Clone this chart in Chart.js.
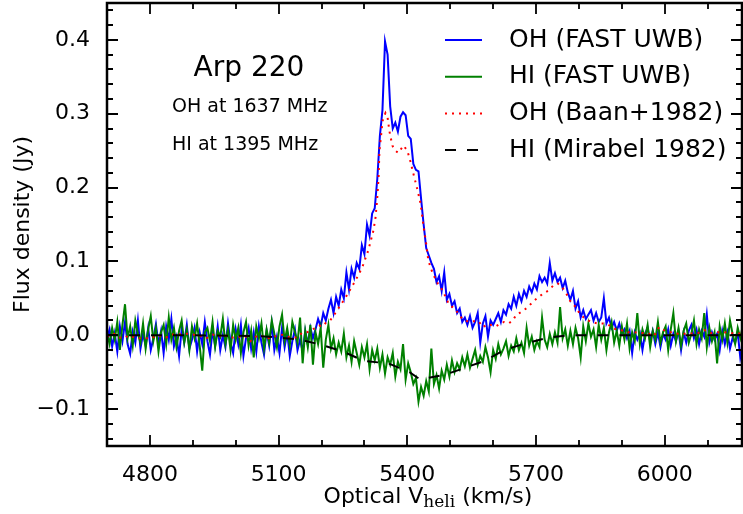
<!DOCTYPE html>
<html>
<head>
<meta charset="utf-8">
<script src="https://cdn.jsdelivr.net/npm/chart.js@4.4.1/dist/chart.umd.min.js"></script>
<style>
  html, body { margin: 0; padding: 0; background: #fff; }
  #spectrum { display: block; }
</style>
</head>
<body>
<canvas id="spectrum" width="743" height="514"></canvas>
<script>
// channel grid of the FAST UWB spectra (km/s)
const vStart = 4700;
const vStep = 6;

// OH (FAST UWB), Jy, one value per channel
const ohFast = [
  -0.004, 0.008, -0.015, 0.003, -0.022, 0.012, -0.008, 0.018, -0.012, -0.025, // 4700
  0.005, -0.010, 0.020, -0.018, 0.002, -0.014, 0.010, -0.020, -0.004, 0.015,   // 4760
  -0.012, 0.006, -0.024, 0.012, -0.006, 0.022, -0.015, -0.002, -0.028, 0.008,  // 4820
  -0.010, 0.014, -0.018, -0.006, 0.010, -0.022, 0.004, -0.012, 0.018, -0.008,  // 4880
  -0.026, 0.006, -0.014, 0.012, -0.020, 0.000, -0.016, 0.016, -0.010, -0.024,  // 4940
  0.008, -0.012, 0.014, -0.028, -0.004, 0.010, -0.018, 0.004, -0.022, 0.012,   // 5000
  -0.010, -0.026, 0.006, -0.014, 0.016, -0.020, -0.002, -0.024, 0.010, -0.016, // 5060
  0.004, -0.028, -0.008, 0.008, -0.020, -0.006, -0.022, 0.006, -0.012, 0.010,  // 5120
  -0.004, 0.008, 0.022, 0.012, 0.030, 0.020, 0.036, 0.048, 0.030, 0.052,       // 5180
  0.040, 0.062, 0.050, 0.085, 0.062, 0.090, 0.078, 0.098, 0.090, 0.122,        // 5240
  0.110, 0.150, 0.135, 0.165, 0.172, 0.212, 0.270, 0.305, 0.398, 0.380,        // 5300
  0.310, 0.280, 0.288, 0.276, 0.296, 0.302, 0.298, 0.270, 0.266, 0.232,        // 5360
  0.224, 0.222, 0.185, 0.150, 0.118, 0.108, 0.098, 0.090, 0.072, 0.080,        // 5420
  0.060, 0.085, 0.048, 0.056, 0.040, 0.046, 0.030, 0.036, 0.018, 0.024,        // 5480
  0.014, 0.026, 0.010, 0.018, 0.030, -0.010, 0.016, 0.026, -0.002, 0.020,      // 5540
  0.014, 0.022, 0.030, 0.018, 0.034, 0.028, 0.042, 0.036, 0.052, 0.040,        // 5600
  0.056, 0.046, 0.060, 0.052, 0.066, 0.058, 0.070, 0.062, 0.080, 0.072,        // 5660
  0.078, 0.070, 0.098, 0.074, 0.084, 0.072, 0.078, 0.064, 0.074, 0.058,        // 5720
  0.048, 0.060, 0.036, 0.046, 0.024, 0.034, 0.022, 0.028, 0.034, 0.020,        // 5780
  0.030, 0.018, 0.024, 0.050, 0.016, 0.024, 0.010, 0.018, 0.006, 0.016,        // 5840
  0.002, 0.008, -0.004, 0.006, -0.024, 0.004, -0.006, 0.003, -0.020, 0.002,    // 5900
  0.010, -0.008, 0.006, -0.012, 0.004, -0.016, 0.002, -0.006, 0.008, -0.014,   // 5960
  0.002, -0.008, 0.006, -0.020, 0.004, -0.010, 0.006, 0.014, -0.004, 0.008,    // 6020
  -0.012, 0.006, -0.002, 0.028, -0.010, 0.004, -0.006, 0.002, -0.020, 0.006,   // 6080
  -0.012, 0.004, -0.018, -0.004, -0.010, 0.004, -0.030, -0.012                 // 6140
];

// HI (FAST UWB), Jy, same channels
const hiFast = [
  0.004, -0.012, 0.010, -0.006, 0.018, -0.020, 0.014, 0.042, -0.004, 0.012,    // 4700
  -0.014, 0.020, 0.002, -0.010, 0.016, -0.018, 0.008, 0.026, -0.008, 0.010,    // 4760
  -0.022, 0.004, 0.014, -0.012, 0.024, -0.006, 0.010, -0.016, 0.006, 0.020,    // 4820
  -0.010, 0.008, -0.020, 0.012, -0.004, 0.016, -0.014, -0.048, 0.004, 0.010,   // 4880
  -0.008, 0.018, -0.016, 0.006, -0.002, 0.022, -0.012, 0.008, -0.020, 0.014,   // 4940
  -0.006, 0.010, -0.024, 0.004, 0.018, -0.014, 0.006, -0.030, 0.012, -0.004,   // 5000
  0.016, -0.018, 0.008, -0.010, 0.020, 0.002, -0.016, 0.012, 0.028, -0.008,    // 5060
  0.010, -0.014, 0.018, 0.004, -0.010, 0.024, -0.038, 0.006, -0.016, 0.014,    // 5120
  -0.040, 0.004, -0.012, 0.010, -0.044, -0.006, 0.014, -0.018, -0.004, -0.026, // 5180
  -0.010, -0.022, 0.002, -0.030, -0.014, -0.036, -0.008, -0.024, -0.040, -0.016, // 5240
  -0.030, -0.012, -0.046, -0.020, -0.034, -0.018, -0.044, -0.026, -0.052, -0.030, // 5300
  -0.040, -0.024, -0.056, -0.036, -0.046, -0.012, -0.060, -0.038, -0.050, -0.066, // 5360
  -0.058, -0.090, -0.070, -0.082, -0.062, -0.076, -0.018, -0.066, -0.054, -0.072, // 5420
  -0.048, -0.060, -0.040, -0.056, -0.034, -0.050, -0.038, -0.046, -0.030, -0.042, // 5480
  -0.026, -0.044, -0.032, -0.020, -0.040, -0.028, -0.036, -0.016, -0.030, -0.050, // 5540
  -0.020, -0.032, -0.012, -0.026, -0.018, -0.008, -0.028, -0.014, -0.022, -0.004, // 5600
  -0.020, -0.010, -0.024, 0.010, -0.014, -0.002, -0.020, -0.008, -0.016, 0.024,  // 5660
  -0.006, -0.016, 0.002, -0.012, 0.004, -0.010, 0.038, -0.004, 0.008, -0.014,   // 5720
  0.006, -0.012, 0.010, -0.004, -0.030, 0.012, -0.008, 0.016, -0.002, 0.008,    // 5780
  -0.016, 0.014, -0.006, 0.010, -0.020, 0.004, 0.018, -0.010, 0.006, -0.014,    // 5840
  0.012, -0.006, 0.016, -0.018, 0.004, -0.008, 0.030, -0.012, 0.008, -0.004,    // 5900
  0.014, -0.016, 0.006, -0.006, 0.018, -0.010, 0.004, 0.012, -0.020, 0.008,     // 5960
  0.030, -0.008, 0.010, -0.014, 0.006, 0.016, -0.010, 0.002, 0.020, -0.012,     // 6020
  0.008, -0.004, 0.030, -0.016, 0.010, -0.008, 0.004, -0.038, 0.012, -0.006,    // 6080
  0.016, -0.010, 0.020, 0.002, -0.012, 0.010, -0.004, 0.014                     // 6140
];

// OH (Baan+1982)
const baanVel = [4700, 4716, 4728, 4740, 4752, 4764, 4772, 4792, 4804, 4816, 4838, 4850, 4862, 4882, 4894,
  4922, 4932, 4946, 4960, 4972, 4984, 4996, 5006, 5016, 5028, 5034, 5044, 5056, 5066, 5078, 5088,
  5112, 5122, 5132, 5144, 5154, 5166, 5176, 5186, 5195, 5203, 5210, 5220, 5232, 5256, 5279, 5295,
  5309, 5321, 5326, 5330, 5333, 5335, 5340, 5342, 5349, 5354, 5358, 5365, 5372, 5379, 5391, 5400,
  5407, 5414, 5424, 5431, 5438, 5443, 5449, 5459, 5471, 5482, 5496, 5513, 5527, 5543, 5555, 5566,
  5576, 5587, 5594, 5606, 5618, 5625, 5636, 5646, 5653, 5664, 5681, 5692, 5704, 5718, 5730, 5741,
  5751, 5762, 5770, 5781, 5793, 5800, 5811, 5828, 5844, 5856, 5867, 5881, 5898, 5914, 5928, 5949,
  5963, 5975, 5987, 5998, 6019, 6031, 6054, 6078, 6092, 6108, 6124, 6138, 6155, 6182];
const baanFlux = [-0.002, 0.002, -0.003, -0.004, 0.000, -0.003, -0.004, -0.004, -0.004, 0.000, -0.003, 0.001, 0.001, 0.002, 0.002,
  -0.002, -0.004, 0.001, -0.002, 0.001, -0.003, -0.003, -0.003, 0.000, -0.003, -0.008, -0.003, 0.001, -0.003, -0.004, -0.002,
  0.001, -0.002, -0.003, -0.003, 0.003, 0.004, 0.007, 0.010, 0.013, 0.012, 0.017, 0.020, 0.030, 0.051, 0.074, 0.092,
  0.115, 0.142, 0.160, 0.187, 0.214, 0.250, 0.277, 0.290, 0.301, 0.295, 0.277, 0.257, 0.250, 0.247, 0.257, 0.250,
  0.236, 0.219, 0.196, 0.178, 0.146, 0.128, 0.101, 0.084, 0.070, 0.061, 0.043, 0.034, 0.023, 0.018, 0.019, 0.019,
  0.011, 0.015, 0.014, 0.012, 0.016, 0.018, 0.016, 0.020, 0.027, 0.031, 0.038, 0.045, 0.051, 0.057, 0.061, 0.068,
  0.070, 0.064, 0.057, 0.045, 0.038, 0.031, 0.024, 0.018, 0.016, 0.016, 0.015, 0.009, 0.007, 0.004, 0.004, 0.003,
  0.002, -0.001, 0.011, 0.007, 0.003, 0.002, 0.002, 0.003, 0.007, 0.003, 0.004, 0.004, 0.003, 0.002];

// HI (Mirabel 1982)
const mirabelVel = [4700, 4900, 5050, 5100, 5150, 5200, 5250, 5300, 5355, 5405, 5430, 5490, 5530, 5583, 5625, 5670, 5730, 5780, 6182];
const mirabelFlux = [0.0, 0.0, -0.001, -0.003, -0.006, -0.013, -0.022, -0.035, -0.038, -0.050, -0.060, -0.053, -0.045, -0.034, -0.020, -0.012, -0.003, 0.0, 0.0];

const seriesLabels = ['OH (FAST UWB)', 'HI (FAST UWB)', 'OH (Baan+1982)', 'HI (Mirabel 1982)'];
const xTickValues = [4800, 5100, 5400, 5700, 6000];
const yTickValues = [-0.1, 0.0, 0.1, 0.2, 0.3, 0.4];
const notes = ['Arp 220', 'OH at 1637 MHz', 'HI at 1395 MHz'];

const FONT = "'DejaVu Sans', sans-serif";

const toPoints = (vals) => vals.map((f, i) => ({ x: vStart + i * vStep, y: f }));
const pair = (xs, ys) => xs.map((v, i) => ({ x: v, y: ys[i] }));

// inward ticks on all four sides plus the box
const frameTicks = {
  id: 'frameTicks',
  afterDatasetsDraw(chart) {
    const { ctx, chartArea: a, scales: { x, y } } = chart;
    ctx.save();
    ctx.strokeStyle = '#000';
    ctx.lineWidth = 1.8;
    ctx.beginPath();
    for (let v = 4700; v <= 6180; v += 100) {
      const px = Math.round(x.getPixelForValue(v));
      if (px <= a.left + 1 || px >= a.right - 1) continue;
      const len = xTickValues.includes(v) ? 11 : 6;
      ctx.moveTo(px, a.bottom); ctx.lineTo(px, a.bottom - len);
      ctx.moveTo(px, a.top); ctx.lineTo(px, a.top + len);
    }
    for (let k = -7; k <= 22; k++) {
      const py = Math.round(y.getPixelForValue(k * 0.02));
      const len = k % 5 === 0 ? 11 : 6;
      ctx.moveTo(a.left, py); ctx.lineTo(a.left + len, py);
      ctx.moveTo(a.right, py); ctx.lineTo(a.right - len, py);
    }
    ctx.stroke();
    ctx.lineWidth = 2.5;
    ctx.strokeRect(a.left, a.top, a.right - a.left, a.bottom - a.top);
    ctx.restore();
  },
  afterDraw(chart) {
    const { ctx, chartArea: a } = chart;
    ctx.save();
    ctx.fillStyle = '#000';
    ctx.textBaseline = 'middle';

    // legend
    ctx.font = '25px ' + FONT;
    chart.data.datasets.forEach((ds, i) => {
      const yy = a.top + 37 + i * 36.7;
      ctx.save();
      ctx.strokeStyle = ds.borderColor;
      ctx.lineWidth = ds.borderWidth;
      ctx.setLineDash(ds.borderDash || []);
      ctx.beginPath();
      ctx.moveTo(445, yy); ctx.lineTo(482, yy);
      ctx.stroke();
      ctx.restore();
      ctx.textAlign = 'left';
      ctx.fillText(ds.label, 509, yy);
    });

    // source notes
    ctx.textAlign = 'center';
    ctx.font = '28px ' + FONT;
    ctx.fillText(notes[0], 249, 69);
    ctx.textAlign = 'left';
    ctx.font = '19px ' + FONT;
    ctx.fillText(notes[1], 172, 107);
    ctx.fillText(notes[2], 172, 145);

    // x axis title with subscript
    ctx.textBaseline = 'alphabetic';
    const mainFont = '22px ' + FONT;
    const subFont = "17px 'DejaVu Serif', serif";
    const p1 = 'Optical V', sub = 'heli', p2 = ' (km/s)';
    ctx.font = mainFont; const w1 = ctx.measureText(p1).width; const w3 = ctx.measureText(p2).width;
    ctx.font = subFont; const w2 = ctx.measureText(sub).width;
    let sx = 428 - (w1 + w2 + w3) / 2;
    const base = 503;
    ctx.font = mainFont; ctx.fillText(p1, sx, base); sx += w1;
    ctx.font = subFont; ctx.fillText(sub, sx, base + 4); sx += w2;
    ctx.font = mainFont; ctx.fillText(p2, sx, base);
    ctx.restore();
  }
};

const fmtY = (v) => (v < 0 ? '\u2212' : '') + Math.abs(v).toFixed(1);

new Chart(document.getElementById('spectrum'), {
  type: 'scatter',
  data: {
    datasets: [
      { label: seriesLabels[0], data: toPoints(ohFast), borderColor: '#0000ff', borderWidth: 2, order: 4 },
      { label: seriesLabels[1], data: toPoints(hiFast), borderColor: '#008000', borderWidth: 2, order: 3 },
      { label: seriesLabels[2], data: pair(baanVel, baanFlux), borderColor: '#ff0000', borderWidth: 2, borderDash: [2, 5], order: 2 },
      { label: seriesLabels[3], data: pair(mirabelVel, mirabelFlux), borderColor: '#000000', borderWidth: 2, borderDash: [11, 11], order: 1 }
    ].map(ds => Object.assign(ds, { showLine: true, pointRadius: 0, tension: 0, fill: false }))
  },
  options: {
    responsive: false,
    animation: false,
    devicePixelRatio: 1,
    layout: { padding: { top: 3, right: 1, left: 0, bottom: 0 } },
    plugins: { legend: { display: false }, tooltip: { enabled: false } },
    scales: {
      x: {
        type: 'linear',
        min: 4700,
        max: 6180,
        grid: { display: false },
        border: { display: false },
        afterBuildTicks: (axis) => { axis.ticks = xTickValues.map(v => ({ value: v })); },
        afterFit: (axis) => { axis.height = 68; axis.paddingLeft = 0; axis.paddingRight = 0; },
        ticks: { color: '#000', font: { family: FONT, size: 22 }, padding: 8, maxRotation: 0, autoSkip: false, callback: (v) => String(v) }
      },
      y: {
        type: 'linear',
        min: -0.15,
        max: 0.45,
        grid: { display: false },
        border: { display: false },
        afterBuildTicks: (axis) => { axis.ticks = yTickValues.map(v => ({ value: v })); },
        afterFit: (axis) => { axis.width = 107; axis.paddingTop = 0; axis.paddingBottom = 0; },
        ticks: { color: '#000', font: { family: FONT, size: 22 }, padding: 9, callback: fmtY },
        title: { display: true, text: 'Flux density (Jy)', color: '#000', font: { family: FONT, size: 22 }, padding: { top: 10, bottom: 0 } }
      }
    }
  },
  plugins: [frameTicks]
});
</script>
</body>
</html>
